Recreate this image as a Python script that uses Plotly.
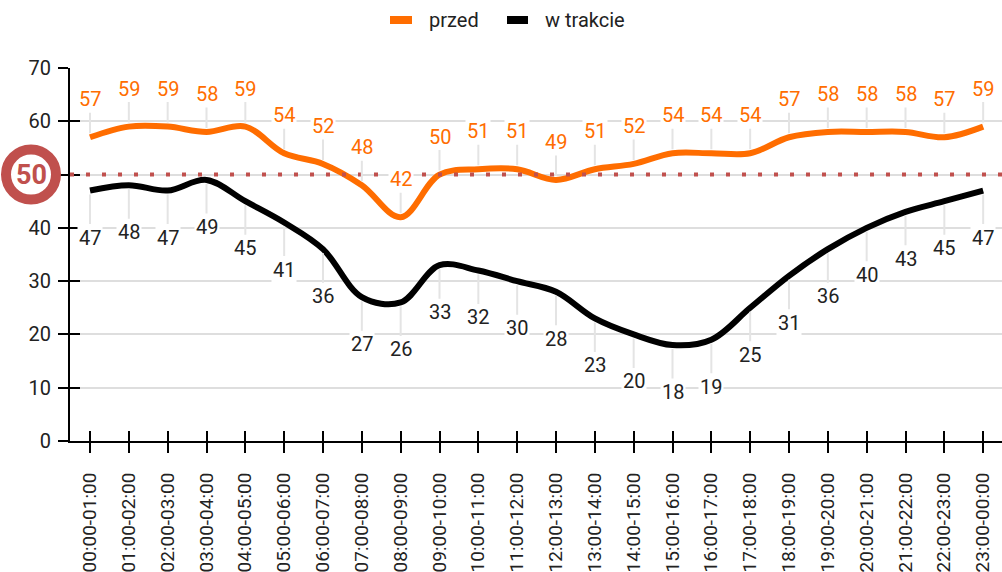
import plotly.graph_objects as go

hours = ["00:00-01:00", "01:00-02:00", "02:00-03:00", "03:00-04:00", "04:00-05:00",
         "05:00-06:00", "06:00-07:00", "07:00-08:00", "08:00-09:00", "09:00-10:00",
         "10:00-11:00", "11:00-12:00", "12:00-13:00", "13:00-14:00", "14:00-15:00",
         "15:00-16:00", "16:00-17:00", "17:00-18:00", "18:00-19:00", "19:00-20:00",
         "20:00-21:00", "21:00-22:00", "22:00-23:00", "23:00-00:00"]
przed = [57, 59, 59, 58, 59, 54, 52, 48, 42, 50, 51, 51, 49, 51, 52, 54, 54, 54, 57, 58, 58, 58, 57, 59]
w_trakcie = [47, 48, 47, 49, 45, 41, 36, 27, 26, 33, 32, 30, 28, 23, 20, 18, 19, 25, 31, 36, 40, 43, 45, 47]
series_names = ["przed", "w trakcie"]
y_ticks = [0, 10, 20, 30, 40, 50, 60, 70]
THRESHOLD = 50

ORANGE = "#ff6d00"
BLACK = "#000000"
RED = "#c0504d"
TEXT = "#222222"
FONT = "Roboto"

W, H = 1002, 572
ML, MR, MT, MB = 70, 0, 68, 131
PLOT_W = W - ML - MR
PLOT_H = H - MT - MB


def px_x(px):
    return (px - ML) / PLOT_W


def px_y(py):
    return (H - MB - py) / PLOT_H


fig = go.Figure()
fig.add_trace(go.Scatter(x=hours, y=przed, name=series_names[0], mode="lines",
                         line=dict(color=ORANGE, width=6, shape="spline", smoothing=1),
                         hoverinfo="skip", showlegend=False))
fig.add_trace(go.Scatter(x=hours, y=w_trakcie, name=series_names[1], mode="lines",
                         line=dict(color=BLACK, width=6, shape="spline", smoothing=1),
                         hoverinfo="skip", showlegend=False))
# invisible trace on overlay axes (for crossing tick marks)
fig.add_trace(go.Scatter(x=hours, y=w_trakcie, xaxis="x2", yaxis="y2", mode="markers",
                         marker=dict(opacity=0), showlegend=False, hoverinfo="skip"))

annotations = []
for h, v in zip(hours, przed):
    annotations.append(dict(x=h, y=v, xref="x", yref="y", text=str(v), showarrow=True,
                            arrowhead=0, arrowwidth=2, arrowcolor="#e4e4e4", ax=0, ay=-38,
                            standoff=4, bgcolor="white", borderpad=1,
                            font=dict(family=FONT, size=20, color=ORANGE)))
for h, v in zip(hours, w_trakcie):
    annotations.append(dict(x=h, y=v, xref="x", yref="y", text=str(v), showarrow=True,
                            arrowhead=0, arrowwidth=2, arrowcolor="#e4e4e4", ax=0, ay=47,
                            standoff=4, bgcolor="white", borderpad=1,
                            font=dict(family=FONT, size=20, color=TEXT)))

circle_x = px_x(31)
annotations.append(dict(x=circle_x, y=THRESHOLD, xref="paper", yref="y", text="<b>%d</b>" % THRESHOLD,
                        xanchor="center", yanchor="middle",
                        showarrow=False, font=dict(family=FONT, size=27, color=RED)))

# legend (manual, to match spacing)
legend_items = [(series_names[0], ORANGE, 390, 412, 427), (series_names[1], BLACK, 507, 528, 543)]
shapes = []
for name, col, s0, s1, tx in legend_items:
    shapes.append(dict(type="line", xref="paper", yref="paper", x0=px_x(s0), x1=px_x(s1),
                       y0=px_y(20), y1=px_y(20), line=dict(color=col, width=8)))
    annotations.append(dict(x=px_x(tx), y=px_y(20), xref="paper", yref="paper", text=name,
                            xanchor="left", yanchor="middle", showarrow=False,
                            font=dict(family=FONT, size=20, color=TEXT)))

shapes += [
    dict(type="line", xref="paper", x0=0, x1=1, yref="y", y0=THRESHOLD, y1=THRESHOLD,
         line=dict(color=RED, width=4, dash="4px,12px"), layer="above"),
    dict(type="circle", xref="paper", xsizemode="pixel", xanchor=circle_x, x0=-25, x1=25,
         yref="y", ysizemode="pixel", yanchor=THRESHOLD, y0=-25, y1=25,
         line=dict(color=RED, width=10), fillcolor="white", layer="above"),
]

xr = [-0.515, len(hours) - 0.515]
fig.update_layout(
    width=W, height=H,
    margin=dict(l=ML, r=MR, t=MT, b=MB, autoexpand=False),
    paper_bgcolor="white", plot_bgcolor="white",
    font=dict(family=FONT, size=20, color=TEXT),
    showlegend=False,
    xaxis=dict(type="category", categoryorder="array", categoryarray=hours, range=xr,
               showline=True, linecolor="black", linewidth=2,
               ticks="outside", ticklen=10, tickwidth=2, tickcolor="black",
               tickangle=-90, tickfont=dict(size=19, color=TEXT), showgrid=False,
               ticklabelstandoff=12, automargin=False),
    yaxis=dict(range=[0, 70], tickmode="array", tickvals=y_ticks,
               ticktext=["" if v == THRESHOLD else str(v) for v in y_ticks],
               showline=True, linecolor="black", linewidth=2,
               ticks="outside", ticklen=10, tickwidth=2, tickcolor="black",
               gridcolor="#dedede", gridwidth=2, zeroline=False,
               tickfont=dict(size=20, color=TEXT), ticklabelstandoff=3, automargin=False),
    xaxis2=dict(type="category", categoryorder="array", categoryarray=hours, range=xr,
                overlaying="x", anchor="y2", side="bottom",
                ticks="inside", ticklen=10, tickwidth=2, tickcolor="black",
                showticklabels=False, showgrid=False, showline=False, zeroline=False),
    yaxis2=dict(range=[0, 70], tickmode="array", tickvals=y_ticks, overlaying="y",
                anchor="x2", side="left",
                ticks="inside", ticklen=10, tickwidth=2, tickcolor="black",
                showticklabels=False, showgrid=False, showline=False, zeroline=False),
    annotations=annotations,
    shapes=shapes,
)

fig.write_html("out.html", config={"displayModeBar": False, "staticPlot": True},
               post_script="document.body.style.margin='0px';document.body.style.overflow='hidden';")
